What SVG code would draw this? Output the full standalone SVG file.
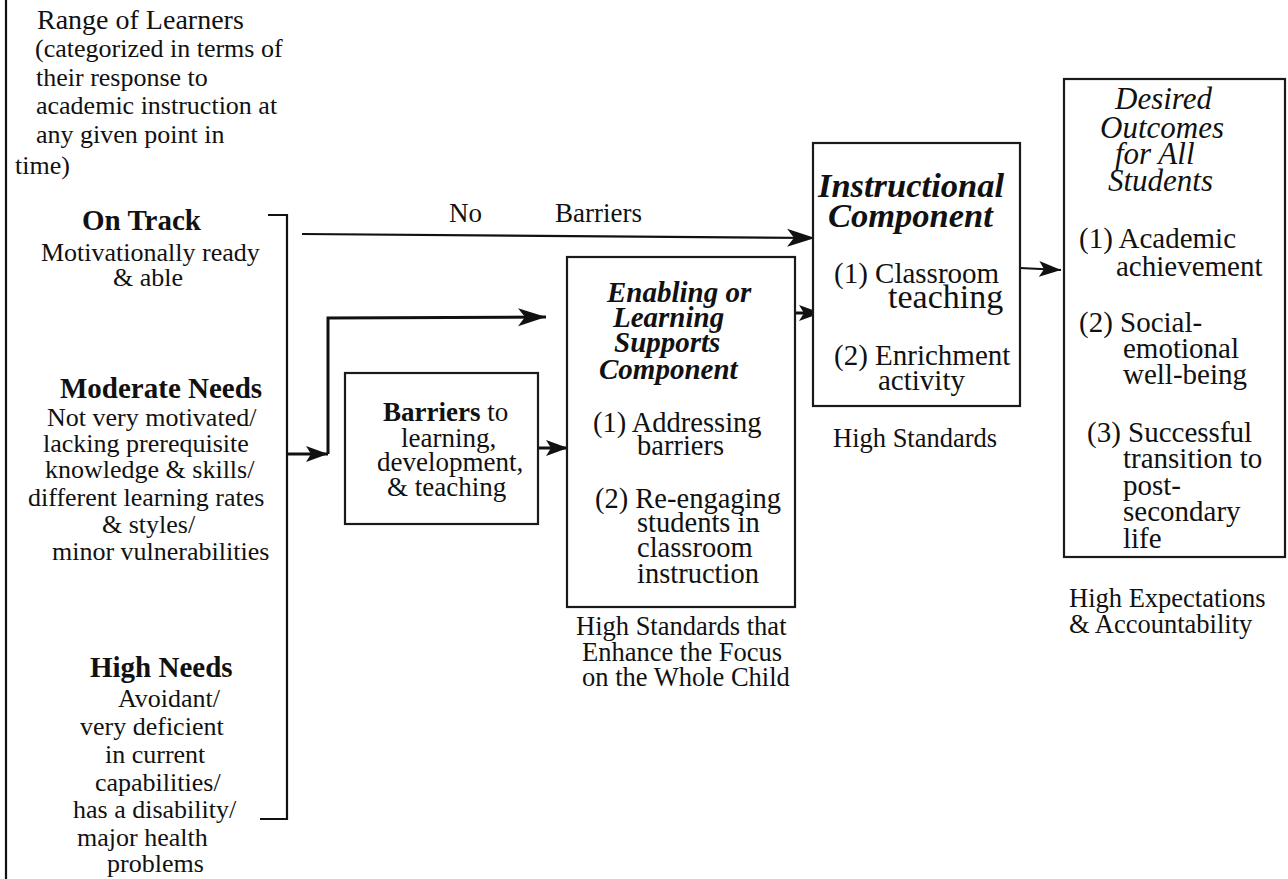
<svg xmlns="http://www.w3.org/2000/svg" width="1288" height="879" viewBox="0 0 1288 879">
<style>
text{font-family:"Liberation Serif","Times New Roman",serif;fill:#111;}
.t{font-size:26px;}
.h{font-size:29px;font-weight:bold;}
.bx{fill:#fff;stroke:#1a1a1a;stroke-width:2.2;}
.c{fill:none;stroke:#111;stroke-width:2.2;}
.ck{fill:none;stroke:#111;stroke-width:3;}
.bi{font-weight:bold;font-style:italic;}
.m{font-size:28.5px;}
.cap{font-size:26.5px;}
</style>
<defs>
<marker id="ah" markerUnits="userSpaceOnUse" markerWidth="30" markerHeight="20" refX="28" refY="10" orient="auto">
<path d="M0,1 L28,10 L0,19 L7,10 z" fill="#111"/>
</marker>
<marker id="as" markerUnits="userSpaceOnUse" markerWidth="24" markerHeight="18" refX="22" refY="9" orient="auto">
<path d="M0,1 L22,9 L0,17 L5,9 z" fill="#111"/>
</marker>
</defs>

<g id="connectors">
<line x1="6" y1="0" x2="6" y2="879" class="c" stroke-width="2.5"/>
<polyline points="268,215 287,215 287,819 260,819" class="c"/>
<line x1="302" y1="234" x2="815" y2="238" class="c" marker-end="url(#ah)"/>
<line x1="287" y1="454" x2="328" y2="454" class="ck" marker-end="url(#as)"/>
<polyline points="328,454 328,318 546,317" class="ck" marker-end="url(#ah)"/>
<line x1="534" y1="448" x2="568" y2="448" class="ck" marker-end="url(#as)"/>
<line x1="795" y1="313" x2="821" y2="313" class="ck" marker-end="url(#as)"/>
<line x1="1020" y1="268" x2="1061" y2="270" class="c" marker-end="url(#as)"/>
</g>

<g id="range-of-learners">
<text x="37" y="29" style="font-size:28px">Range of Learners</text>
<text class="t" x="35" y="57">(categorized in terms of</text>
<text class="t" x="36" y="86">their response to</text>
<text class="t" x="36" y="114">academic instruction at</text>
<text class="t" x="36" y="143">any given point in</text>
<text class="t" x="15" y="174">time)</text>
</g>

<g id="on-track">
<text class="h" x="82" y="230">On Track</text>
<text class="t" x="41" y="261">Motivationally ready</text>
<text class="t" x="113" y="286">&amp; able</text>
</g>

<g id="moderate-needs">
<text class="h" x="60" y="398">Moderate Needs</text>
<text class="t" x="47" y="426">Not very motivated/</text>
<text class="t" x="43" y="452">lacking prerequisite</text>
<text class="t" x="45" y="478">knowledge &amp; skills/</text>
<text class="t" x="28" y="506">different learning rates</text>
<text class="t" x="102" y="533">&amp; styles/</text>
<text class="t" x="52" y="560">minor vulnerabilities</text>
</g>

<g id="high-needs">
<text class="h" x="90" y="677">High Needs</text>
<text class="t" x="118" y="707">Avoidant/</text>
<text class="t" x="80" y="735">very deficient</text>
<text class="t" x="105" y="763">in current</text>
<text class="t" x="95" y="791">capabilities/</text>
<text class="t" x="73" y="818">has a disability/</text>
<text class="t" x="77" y="846">major health</text>
<text class="t" x="107" y="872">problems</text>
</g>

<g id="no-barriers-label">
<text x="449" y="222" style="font-size:27px">No</text>
<text x="555" y="222" style="font-size:27px">Barriers</text>
</g>

<g id="barriers">
<rect class="bx" x="345" y="373" width="193" height="151"/>
<text x="383" y="421" style="font-size:27px"><tspan font-weight="bold">Barriers</tspan> to</text>
<text x="401" y="447" style="font-size:27px">learning,</text>
<text x="377" y="471" style="font-size:27px">development,</text>
<text x="387" y="496" style="font-size:27px">&amp; teaching</text>
</g>

<g id="enabling-component">
<rect class="bx" x="567" y="257" width="228" height="350"/>
<text class="bi" x="607" y="302" style="font-size:29px">Enabling or</text>
<text class="bi" x="613" y="327" style="font-size:29px">Learning</text>
<text class="bi" x="614" y="352" style="font-size:29px">Supports</text>
<text class="bi" x="599" y="379" style="font-size:29px">Component</text>
<text class="m" x="593" y="432">(1) Addressing</text>
<text class="m" x="637" y="455">barriers</text>
<text class="m" x="595" y="508">(2) Re-engaging</text>
<text class="m" x="637" y="532">students in</text>
<text class="m" x="637" y="557">classroom</text>
<text class="m" x="637" y="583">instruction</text>
<text class="cap" x="576" y="635">High Standards that</text>
<text class="cap" x="582" y="661">Enhance the Focus</text>
<text class="cap" x="582" y="686">on the Whole Child</text>
</g>

<g id="instructional-component">
<rect class="bx" x="813" y="143" width="207" height="263"/>
<text class="bi" x="818" y="197" style="font-size:34.5px">Instructional</text>
<text class="bi" x="828" y="227" style="font-size:34.5px">Component</text>
<text x="834" y="283" style="font-size:29px">(1) Classroom</text>
<text x="888" y="308" style="font-size:34px">teaching</text>
<text x="834" y="365" style="font-size:29px">(2) Enrichment</text>
<text x="878" y="390" style="font-size:29px">activity</text>
<text class="cap" x="833" y="447">High Standards</text>
</g>

<g id="desired-outcomes">
<rect class="bx" x="1064" y="79" width="221" height="478"/>
<text x="1115" y="109" style="font-size:31px;font-style:italic">Desired</text>
<text x="1100" y="138" style="font-size:31px;font-style:italic">Outcomes</text>
<text x="1115" y="164" style="font-size:31px;font-style:italic">for All</text>
<text x="1108" y="191" style="font-size:31px;font-style:italic">Students</text>
<text x="1079" y="248" style="font-size:29px">(1) Academic</text>
<text x="1116" y="276" style="font-size:29px">achievement</text>
<text x="1079" y="332" style="font-size:29px">(2) Social-</text>
<text x="1123" y="358" style="font-size:29px">emotional</text>
<text x="1123" y="384" style="font-size:29px">well-being</text>
<text x="1087" y="442" style="font-size:29px">(3) Successful</text>
<text x="1123" y="468" style="font-size:29px">transition to</text>
<text x="1123" y="495" style="font-size:29px">post-</text>
<text x="1123" y="521" style="font-size:29px">secondary</text>
<text x="1123" y="548" style="font-size:29px">life</text>
<text class="cap" x="1069" y="607">High Expectations</text>
<text class="cap" x="1069" y="633">&amp; Accountability</text>
</g>
</svg>
